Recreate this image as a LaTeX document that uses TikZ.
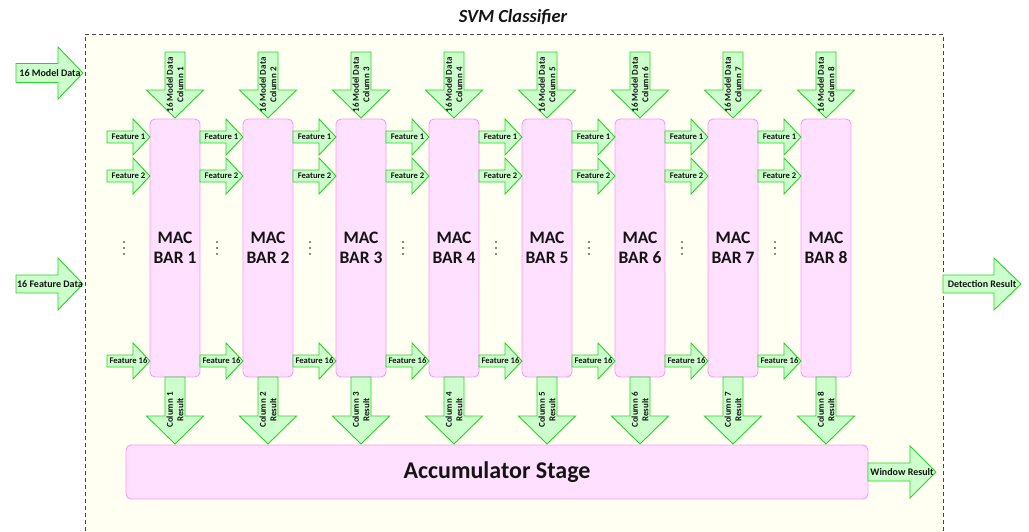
\documentclass[tikz,border=0pt]{standalone}
\usepackage{fontspec}
\setmainfont{Carlito}
\definecolor{bgyel}{RGB}{255,255,242}
\definecolor{boxline}{RGB}{70,70,70}
\definecolor{barfill}{RGB}{255,224,255}
\definecolor{barline}{RGB}{255,150,255}
\definecolor{arrfill}{RGB}{204,255,204}
\definecolor{arrline}{RGB}{40,210,40}
\definecolor{txt}{RGB}{20,20,20}
\tikzset{
  arrowshape/.style={draw=arrline, fill=arrfill, line width=0.9pt, line join=miter},
  barbox/.style={draw=barline, fill=barfill, line width=0.9pt, rounded corners=5pt,
    font=\bfseries\fontsize{17.5}{20.5}\selectfont, text=txt, align=center, inner sep=0pt},
  smalllab/.style={font=\bfseries\fontsize{8.6}{10}\selectfont, text=txt, inner sep=0pt},
  collab/.style={font=\bfseries\fontsize{9}{10.5}\selectfont, text=txt, inner sep=0pt, align=center, rotate=90},
  biglab/.style={font=\bfseries\fontsize{10}{12}\selectfont, text=txt, inner sep=0pt},
  dotmark/.style={fill=txt, draw=none}
}
% right arrow: x0, xhead, xtip, ycenter, shaft half, head half
\newcommand\RArr[6]{\path[arrowshape] (#1,#4-#5) -- (#2,#4-#5) -- (#2,#4-#6) -- (#3,#4) -- (#2,#4+#6) -- (#2,#4+#5) -- (#1,#4+#5) -- cycle;}
% down arrow: y0, yhead, ytip, xcenter, shaft half, head half
\newcommand\DArr[6]{\path[arrowshape] (#4-#5,#1) -- (#4-#5,#2) -- (#4-#6,#2) -- (#4,#3) -- (#4+#6,#2) -- (#4+#5,#2) -- (#4+#5,#1) -- cycle;}
\begin{document}
\begin{tikzpicture}[x=1pt,y=-1pt]
\useasboundingbox (0,0) rectangle (1029,531);
% outer dashed frame
\path[fill=bgyel] (85,34) rectangle (943,545);
\draw[boxline, line width=1pt, dash pattern=on 4pt off 3pt] (85,545) -- (85,34) -- (943,34) -- (943,545);
\node[font=\bfseries\itshape\fontsize{18.5}{22}\selectfont, text=txt] (title) at (513,17) {SVM Classifier};

% input / output arrows
\RArr{16}{58}{83}{73}{9.5}{26}
\node[biglab] (modeldata) at (50,73) {16 Model Data};
\RArr{16}{58}{83}{284}{9}{26}
\node[biglab] (featdata) at (50,284) {16 Feature Data};
\RArr{943}{994}{1021}{284}{9}{26}
\node[biglab] (detres) at (982,284) {Detection Result};

% accumulator
\node[barbox, minimum width=742pt, minimum height=54pt, font=\bfseries\fontsize{24}{28}\selectfont] (acc) at (497,472) {Accumulator Stage};
\RArr{868}{910}{936}{472}{9}{26}
\node[biglab] (winres) at (902,472) {Window Result};

\foreach \i in {1,...,8}{
  \pgfmathsetmacro\cx{175+93*(\i-1)}
  \pgfmathsetmacro\lx{150+93*(\i-1)}
  % MAC bar
  \node[barbox, minimum width=50pt, minimum height=258pt] (bar\i) at (\cx,248) {MAC\\BAR \i};
  % model data column arrow
  \DArr{52}{90}{118}{\cx}{10}{28.5}
  \node[collab] (mdc\i) at (\cx,85) {16 Model Data\\Column \i};
  % column result arrow
  \DArr{377}{416}{444}{\cx}{10}{28.5}
  \node[collab] (cres\i) at (\cx,410) {Column \i\\Result};
  % feature arrows
  \RArr{\lx-43}{\lx-17}{\lx}{137}{6}{18}
  \node[smalllab] (fa\i) at (\lx-21.5,137) {Feature 1};
  \RArr{\lx-43}{\lx-17}{\lx}{176}{6}{18}
  \node[smalllab] (fb\i) at (\lx-21.5,176) {Feature 2};
  \RArr{\lx-43}{\lx-17}{\lx}{361}{6}{18}
  \node[smalllab] (fc\i) at (\lx-21.5,361) {Feature 16};
  % vertical ellipsis
  \foreach \dy in {-6,0,6}{\path[dotmark] (\lx-26,248+\dy) circle (0.9pt);}
}
\end{tikzpicture}
\end{document}
